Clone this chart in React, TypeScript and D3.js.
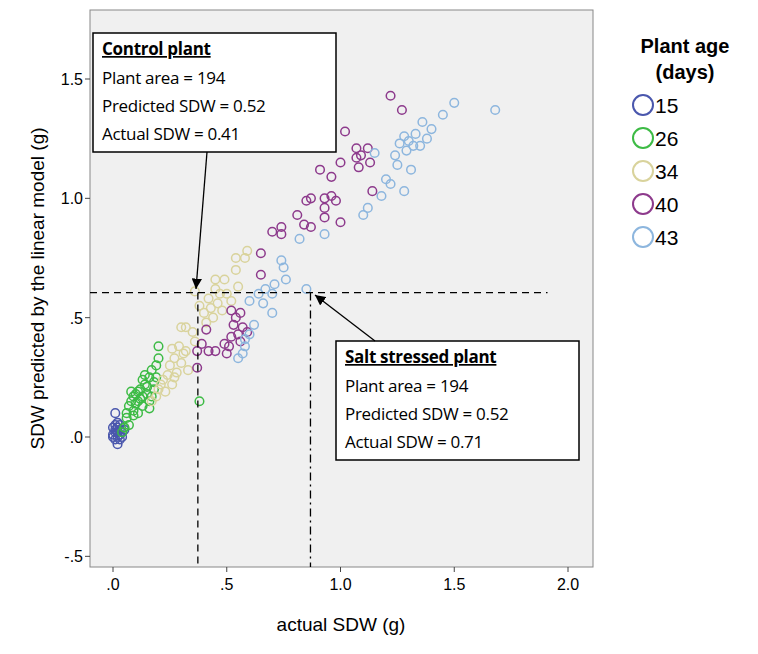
import React from "react";
import * as d3 from "d3";

type P = [number, number];

const ages = ["15", "26", "34", "40", "43"];
const colors = ["#4a57ad", "#3dbb45", "#d9d39c", "#8d3a8c", "#8db6de"];

const age15: P[] = [
  [0.01, 0.1], [0.02, 0.06], [0.0, 0.04], [0.01, 0.02], [0.02, 0.0], [0.03, 0.03], [0.0, 0.01],
  [0.01, -0.01], [0.02, -0.03], [0.03, 0.01], [0.04, 0.02], [0.0, 0.0], [0.03, 0.05], [0.01, 0.05],
  [0.02, 0.02], [0.04, 0.0], [0.05, 0.03], [0.02, 0.04], [0.01, 0.03], [0.03, -0.01],
];
const age26: P[] = [
  [0.2, 0.38], [0.2, 0.33], [0.19, 0.3], [0.17, 0.28], [0.16, 0.25], [0.14, 0.22], [0.18, 0.23],
  [0.12, 0.2], [0.1, 0.18], [0.09, 0.17], [0.11, 0.15], [0.13, 0.17], [0.15, 0.18], [0.08, 0.15],
  [0.07, 0.13], [0.09, 0.11], [0.11, 0.1], [0.06, 0.08], [0.07, 0.05], [0.05, 0.04], [0.1, 0.14],
  [0.13, 0.13], [0.16, 0.15], [0.14, 0.26], [0.18, 0.2], [0.08, 0.19], [0.12, 0.16], [0.38, 0.15],
  [0.05, 0.04], [0.06, 0.1], [0.15, 0.21], [0.17, 0.17], [0.11, 0.19], [0.09, 0.09], [0.19, 0.25],
  [0.04, 0.02], [0.13, 0.24], [0.16, 0.12],
];
const age34: P[] = [
  [0.54, 0.75], [0.59, 0.78], [0.58, 0.75], [0.54, 0.7], [0.49, 0.66], [0.36, 0.61], [0.45, 0.62],
  [0.47, 0.6], [0.5, 0.6], [0.42, 0.58], [0.46, 0.56], [0.43, 0.54], [0.4, 0.52], [0.44, 0.5],
  [0.48, 0.53], [0.52, 0.57], [0.41, 0.48], [0.3, 0.46], [0.32, 0.46], [0.35, 0.44], [0.29, 0.38],
  [0.31, 0.35], [0.27, 0.33], [0.25, 0.3], [0.3, 0.31], [0.33, 0.28], [0.28, 0.27], [0.24, 0.26],
  [0.22, 0.24], [0.26, 0.22], [0.2, 0.2], [0.23, 0.19], [0.19, 0.17], [0.17, 0.15], [0.21, 0.22],
  [0.27, 0.25], [0.32, 0.36], [0.36, 0.4], [0.38, 0.55], [0.55, 0.63], [0.45, 0.66], [0.26, 0.37],
];
const age40: P[] = [
  [1.22, 1.43], [1.27, 1.37], [1.02, 1.28], [1.07, 1.21], [1.09, 1.18], [1.0, 1.15], [0.91, 1.12],
  [0.96, 1.09], [1.08, 1.13], [1.13, 1.15], [1.14, 1.03], [0.85, 0.99], [0.87, 1.0], [0.93, 1.0],
  [0.96, 1.01], [0.98, 0.99], [0.93, 0.96], [0.81, 0.93], [0.84, 0.89], [0.87, 0.88], [0.93, 0.92],
  [1.0, 0.9], [0.7, 0.86], [0.74, 0.85], [0.74, 0.88], [0.65, 0.77], [0.65, 0.68], [0.52, 0.53],
  [0.54, 0.5], [0.56, 0.52], [0.53, 0.47], [0.57, 0.46], [0.55, 0.43], [0.59, 0.44], [0.52, 0.42],
  [0.56, 0.4], [0.51, 0.38], [0.37, 0.36], [0.37, 0.29], [0.39, 0.39], [0.42, 0.36], [0.45, 0.36],
  [0.41, 0.45], [0.49, 0.39], [0.5, 0.35], [1.07, 1.17], [1.12, 1.21],
];
const age43: P[] = [
  [1.68, 1.37], [1.5, 1.4], [1.45, 1.35], [1.36, 1.32], [1.38, 1.25], [1.28, 1.26], [1.3, 1.24],
  [1.32, 1.22], [1.29, 1.2], [1.33, 1.27], [1.26, 1.23], [1.31, 1.12], [1.28, 1.03], [1.18, 1.01],
  [1.2, 1.08], [1.22, 1.06], [1.1, 0.93], [1.12, 0.96], [0.93, 0.85], [0.82, 0.83], [1.24, 1.18],
  [0.74, 0.74], [0.75, 0.71], [0.76, 0.66], [0.85, 0.62], [0.7, 0.52], [0.6, 0.57], [0.64, 0.6],
  [0.67, 0.62], [0.71, 0.64], [0.66, 0.56], [0.7, 0.6], [0.57, 0.35], [0.55, 0.33], [0.58, 0.41],
  [0.6, 0.43], [0.62, 0.47], [0.58, 0.38], [1.15, 1.19], [1.4, 1.29], [1.35, 1.22], [1.25, 1.14],
];
const groups = [age15, age26, age34, age40, age43];

const xTicks = [0, 0.5, 1, 1.5, 2];
const yTicks = [-0.5, 0, 0.5, 1, 1.5];
const fmt = (v: number) => {
  const s = Math.abs(v).toFixed(1).replace(/^0\./, ".");
  return (v < 0 ? "-" : "") + s;
};

const controlLines = ["Plant area = 194", "Predicted SDW = 0.52", "Actual SDW = 0.41"];
const saltLines = ["Plant area = 194", "Predicted SDW = 0.52", "Actual SDW = 0.71"];

export default function App() {
  const L = 90, R = 593, T = 10, B = 567;
  const x = d3.scaleLinear().domain([0, 2]).range([113, 568]);
  const y = d3.scaleLinear().domain([0, 1.5]).range([437, 79]);
  const font = "'Liberation Sans', Arial, sans-serif";
  const cal = "'Open Sans', sans-serif";
  const refY = y(0.605);

  const box = (bx: number, by: number, title: string, lines: string[]) => (
    <g>
      <rect x={bx} y={by} width={243} height={119} fill="#fff" stroke="#000" strokeWidth={1.5} />
      <text x={bx + 9} y={by + 22} fontFamily={cal} fontSize={17} fontWeight="bold" textDecoration="underline" letterSpacing={-0.3}>{title}</text>
      {lines.map((t, i) => (
        <text key={i} x={bx + 9} y={by + 51 + i * 28} fontFamily={cal} fontSize={17} letterSpacing={-0.3}>{t}</text>
      ))}
    </g>
  );

  return (
    <svg width={758} height={654} style={{ position: "absolute", left: 0, top: 0, background: "#fff" }}>
      <defs>
        <marker id="ah" viewBox="0 0 10 10" refX={10} refY={5} markerWidth={8} markerHeight={8} orient="auto">
          <path d="M0,0 L10,5 L0,10 z" fill="#000" />
        </marker>
      </defs>
      <rect x={L} y={T} width={R - L} height={B - T} fill="#f0f0f0" stroke="#888" />
      {groups.map((g, gi) =>
        g.map((p, i) => (
          <circle key={gi + "-" + i} cx={x(p[0])} cy={y(p[1])} r={4.3} fill="none" stroke={colors[gi]} strokeWidth={1.5} />
        ))
      )}
      {xTicks.map((t) => (
        <g key={"x" + t}>
          <line x1={x(t)} x2={x(t)} y1={B} y2={B + 5} stroke="#444" />
          <text x={x(t)} y={B + 23} textAnchor="middle" fontFamily={font} fontSize={16}>{fmt(t)}</text>
        </g>
      ))}
      {yTicks.map((t) => (
        <g key={"y" + t}>
          <line x1={L - 5} x2={L} y1={y(t)} y2={y(t)} stroke="#444" />
          <text x={L - 7} y={y(t) + 6} textAnchor="end" fontFamily={font} fontSize={16}>{fmt(t)}</text>
        </g>
      ))}
      <text x={341} y={631} textAnchor="middle" fontFamily={font} fontSize={19}>actual SDW (g)</text>
      <text transform={`translate(44,${(T + B) / 2}) rotate(-90)`} textAnchor="middle" fontFamily={font} fontSize={19}>
        SDW predicted by the linear model (g)
      </text>
      <line x1={L} x2={x(1.91)} y1={refY} y2={refY} stroke="#000" strokeDasharray="7,5" strokeWidth={1.3} />
      <line x1={x(0.373)} x2={x(0.373)} y1={refY} y2={B} stroke="#000" strokeDasharray="7,5" strokeWidth={1.3} />
      <line x1={x(0.868)} x2={x(0.868)} y1={refY} y2={B} stroke="#000" strokeDasharray="8,4,2,4" strokeWidth={1.3} />
      {box(93, 33, "Control plant", controlLines)}
      {box(336, 341, "Salt stressed plant", saltLines)}
      <line x1={207} y1={152} x2={196} y2={289} stroke="#000" strokeWidth={1.3} markerEnd="url(#ah)" />
      <line x1={375} y1={341} x2={315} y2={295} stroke="#000" strokeWidth={1.3} markerEnd="url(#ah)" />
      <text x={685} y={53} textAnchor="middle" fontFamily={font} fontSize={20} fontWeight="bold">Plant age</text>
      <text x={685} y={79} textAnchor="middle" fontFamily={font} fontSize={20} fontWeight="bold">(days)</text>
      {ages.map((a, i) => (
        <g key={a}>
          <circle cx={643} cy={105 + i * 33} r={10} fill="none" stroke={colors[i]} strokeWidth={2} />
          <text x={655} y={113 + i * 33} fontFamily={font} fontSize={21}>{a}</text>
        </g>
      ))}
    </svg>
  );
}
